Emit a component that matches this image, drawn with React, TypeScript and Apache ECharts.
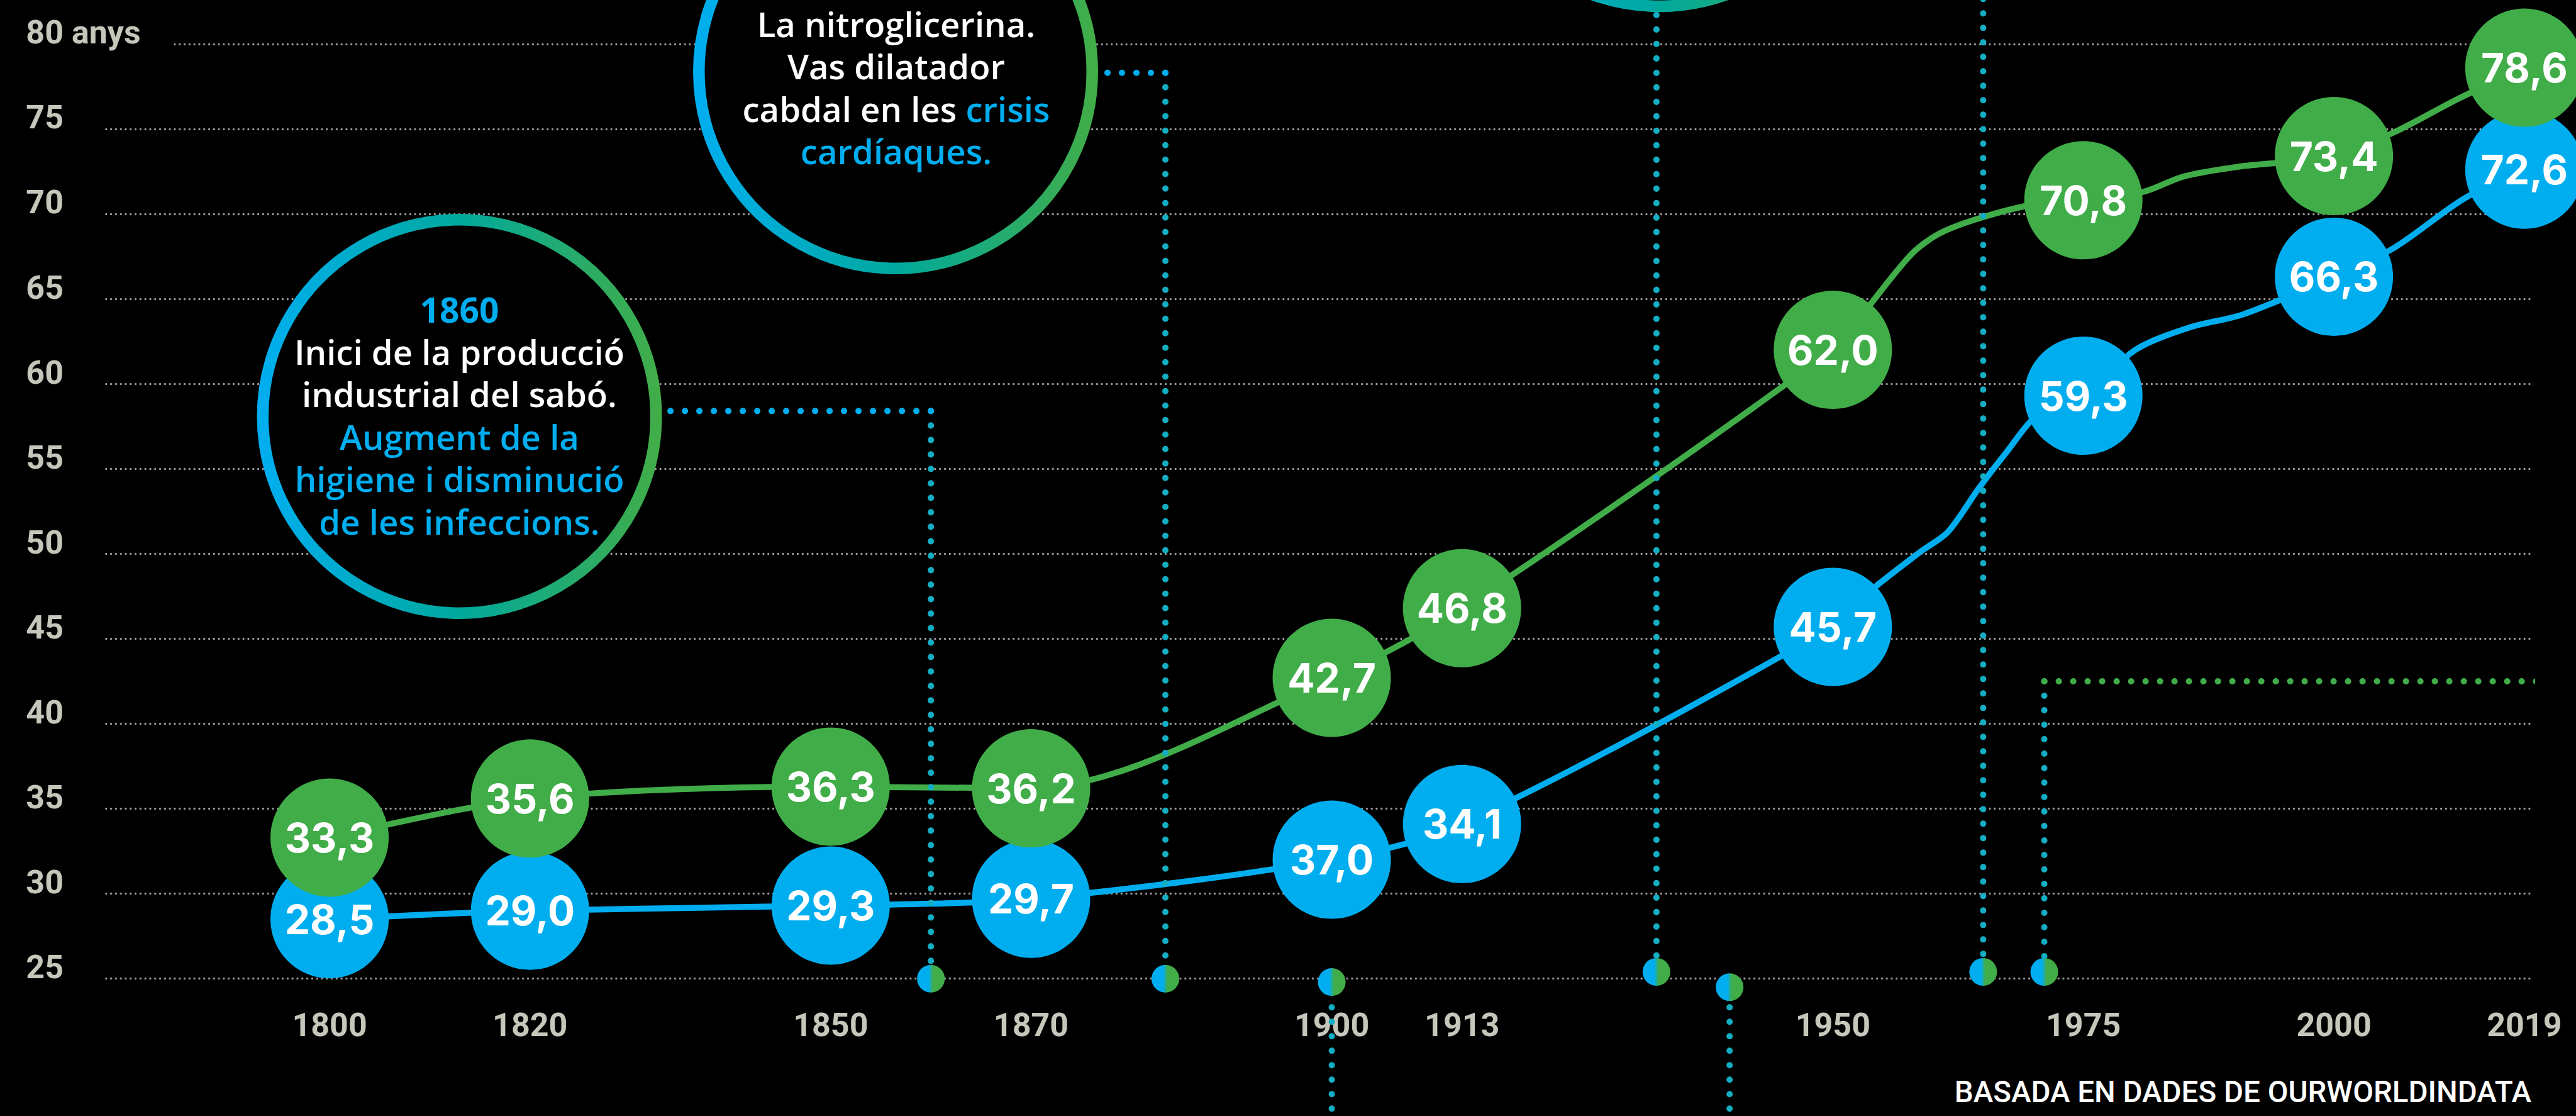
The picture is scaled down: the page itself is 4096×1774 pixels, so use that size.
import React, { useEffect, useRef } from 'react';
import * as echarts from 'echarts';

// ---- data ----
const circleYears = [1800, 1820, 1850, 1870, 1900, 1913, 1950, 1975, 2000, 2019];
const europeValues = [33.3, 35.6, 36.3, 36.2, 42.7, 46.8, 62.0, 70.8, 73.4, 78.6];
const europeLabels = ['33,3', '35,6', '36,3', '36,2', '42,7', '46,8', '62,0', '70,8', '73,4', '78,6'];
const worldValues = [28.5, 29.0, 29.3, 29.7, 32.0, 34.1, 45.7, 59.3, 66.3, 72.6];
const worldLabels = ['28,5', '29,0', '29,3', '29,7', '37,0', '34,1', '45,7', '59,3', '66,3', '72,6'];

// intermediate points of the lines (no circle)
const europeExtraYears = [1953.1, 1957.8, 1960.5, 1964.4, 1969.6, 1981.0, 1985.0, 1990.8, 2006.0, 2012.5];
const europeExtraValues = [64.2, 67.6, 68.8, 69.7, 70.5, 71.3, 72.2, 72.8, 74.8, 76.8];
const worldExtraYears = [1953.5, 1958.7, 1961.5, 1964.5, 1967.1, 1970.5, 1980.2, 1985.5, 1991.0, 2006.0, 2013.0];
const worldExtraValues = [47.7, 50.1, 51.3, 53.8, 55.8, 58.2, 62.0, 63.3, 64.1, 68.0, 70.9];

const xLabelYears = [1800, 1820, 1850, 1870, 1900, 1913, 1950, 1975, 2000, 2019];
const yMin = 25;
const yMax = 80;
const yStep = 5;

// event markers on the time axis and their dotted connectors
const eventYears = [1860, 1883.4, 1900, 1932.4, 1939.7, 1965, 1971.1];
const eventBaseValues = [25, 25, 24.8, 25.4, 24.5, 25.4, 25.4];
const eventLinkValues = [58.4, 78.3, 16.5, 81.7, 16.5, 83.5, 42.5];
const eventLinkEndYears: (number | null)[] = [1833.3, 1877.2, null, null, null, null, 2024.5];
const eventLinkColors = ['blue', 'blue', '', '', '', '', 'green'];

const BLUE = '#00aeef';
const GREEN = '#41ad49';
const TEAL = '#00a99d';
const AXIS_GREY = '#c6c6bb';

function mergeLine(years: number[], values: number[], ey: number[], ev: number[]) {
  const pts: [number, number][] = [];
  years.forEach((y, i) => pts.push([y, values[i]]));
  ey.forEach((y, i) => pts.push([y, ev[i]]));
  pts.sort((a, b) => a[0] - b[0]);
  return pts;
}

export default function App() {
  const ref = useRef<HTMLDivElement>(null);
  useEffect(() => {
    document.body.style.margin = '0';
    document.body.style.background = '#000';
    if (!ref.current) return;
    const chart = echarts.init(ref.current, null, { renderer: 'svg' });

    const connectorStyle = (color: any) => ({
      color,
      width: 10,
      type: [0.1, 22.9],
      cap: 'round',
    });

    const connectorSeries: any[] = [];
    eventYears.forEach((yr, i) => {
      connectorSeries.push({
        type: 'line',
        data: [[yr, eventLinkValues[i]], [yr, eventBaseValues[i]]],
        showSymbol: false,
        symbol: 'none',
        clip: false,
        silent: true,
        z: 3,
        lineStyle: connectorStyle('#14aec4'),
      });
      const endYr = eventLinkEndYears[i];
      if (endYr !== null) {
        connectorSeries.push({
          type: 'line',
          data: [[yr, eventLinkValues[i]], [endYr, eventLinkValues[i]]],
          showSymbol: false,
          symbol: 'none',
          clip: false,
          silent: true,
          z: 3,
          lineStyle: connectorStyle(eventLinkColors[i] === 'green' ? GREEN : BLUE),
        });
      }
    });

    const ringGradient = () =>
      new echarts.graphic.LinearGradient(0, 0, 1, 0, [
        { offset: 0, color: BLUE },
        { offset: 0.5, color: TEAL },
        { offset: 1, color: GREEN },
      ]);

    const ring = (cx: number, cy: number) => ({
      type: 'circle',
      z: 50,
      silent: true,
      shape: { cx, cy, r: 312.75 },
      style: { fill: '#000', stroke: ringGradient(), lineWidth: 18.5 },
    });

    const txt = (fill: string, weight: any = 600, size = 54.5) => ({
      fill,
      color: fill,
      fontFamily: 'Open Sans',
      fontWeight: weight,
      fontSize: size,
      lineHeight: 67.6,
    });

    const circleLabel = (labels: string[]) => ({
      show: true,
      position: 'inside',
      formatter: (p: any) => labels[p.dataIndex],
      color: '#fff',
      fontFamily: 'Inter',
      fontWeight: 'bold',
      fontSize: 64,
    });

    const markerColor = new echarts.graphic.LinearGradient(0, 0, 1, 0, [
      { offset: 0, color: BLUE },
      { offset: 0.42, color: BLUE },
      { offset: 0.58, color: GREEN },
      { offset: 1, color: GREEN },
    ]);

    chart.setOption({
      animation: false,
      backgroundColor: '#000',
      grid: {
        left: 168.7,
        right: 71,
        top: 69.8,
        bottom: 218.3,
        containLabel: false,
        outerBoundsMode: 'none',
      },
      xAxis: {
        type: 'value',
        min: 1777.7,
        max: 2019.7,
        axisLine: { show: false },
        axisTick: { show: false },
        splitLine: { show: false },
        axisLabel: {
          customValues: xLabelYears,
          formatter: (v: number) => String(Math.round(v)),
          color: AXIS_GREY,
          fontFamily: 'Roboto',
          fontWeight: 'bold',
          fontSize: 52,
          margin: 74,
          verticalAlign: 'middle',
        },
      },
      yAxis: {
        type: 'value',
        min: yMin,
        max: yMax,
        interval: yStep,
        axisLine: { show: false },
        axisTick: { show: false },
        splitLine: {
          show: true,
          lineStyle: { color: '#9a9a9a', width: 3.3, type: [0.1, 7.7], cap: 'round' },
        },
        axisLabel: {
          align: 'left',
          margin: 127.4,
          verticalAlign: 'middle',
          padding: [0, 0, 36, 0],
          color: AXIS_GREY,
          fontFamily: 'Roboto',
          fontWeight: 'bold',
          fontSize: 52,
          formatter: (v: number) => (v === yMax ? '{a|' + v + ' anys}' : '{n|' + v + '}'),
          rich: {
            a: {
              color: AXIS_GREY,
              fontFamily: 'Roboto',
              fontWeight: 'bold',
              fontSize: 52,
              lineHeight: 52,
              width: 232,
              backgroundColor: '#000',
            },
            n: {
              color: AXIS_GREY,
              fontFamily: 'Roboto',
              fontWeight: 'bold',
              fontSize: 52,
              lineHeight: 52,
            },
          },
        },
      },
      series: [
        {
          type: 'line',
          name: 'Món',
          data: mergeLine(circleYears, worldValues, worldExtraYears, worldExtraValues),
          showSymbol: false,
          symbol: 'none',
          smooth: 0.3,
          clip: false,
          z: 2,
          lineStyle: { color: BLUE, width: 9.5 },
        },
        {
          type: 'line',
          name: 'Europa',
          data: mergeLine(circleYears, europeValues, europeExtraYears, europeExtraValues),
          showSymbol: false,
          symbol: 'none',
          smooth: 0.3,
          clip: false,
          z: 2,
          lineStyle: { color: GREEN, width: 9.5 },
        },
        ...connectorSeries,
        {
          type: 'scatter',
          name: 'Món punts',
          data: circleYears.map((y, i) => [y, worldValues[i]]),
          symbol: 'circle',
          symbolSize: 188,
          clip: false,
          z: 4,
          itemStyle: { color: BLUE, opacity: 1 },
          label: circleLabel(worldLabels),
        },
        {
          type: 'scatter',
          name: 'Europa punts',
          data: circleYears.map((y, i) => [y, europeValues[i]]),
          symbol: 'circle',
          symbolSize: 188,
          clip: false,
          z: 5,
          itemStyle: { color: GREEN, opacity: 1 },
          label: circleLabel(europeLabels),
        },
        {
          type: 'scatter',
          name: 'Fites',
          data: eventYears.map((y, i) => [y, eventBaseValues[i]]),
          symbol: 'circle',
          symbolSize: 44,
          clip: false,
          z: 6,
          itemStyle: { color: markerColor, opacity: 1 },
        },
      ],
      graphic: {
        elements: [
          ring(730.5, 662),
          ring(1424, 114),
          ring(2638.7, -302.8),
          {
            type: 'text',
            z: 51,
            silent: true,
            x: 730.5,
            y: 660,
            style: {
              text:
                '{y|1860}\n{w|Inici de la producció}\n{w|industrial del sabó.}\n{b|Augment de la}\n{b|higiene i disminució}\n{b|de les infeccions.}',
              align: 'center',
              verticalAlign: 'middle',
              rich: {
                y: txt(BLUE, 'bold', 55),
                w: txt('#ffffff'),
                b: txt(BLUE),
              },
            },
          },
          {
            type: 'text',
            z: 51,
            silent: true,
            x: 1425,
            y: 139,
            style: {
              text:
                '{w|La nitroglicerina.}\n{w|Vas dilatador}\n{w|cabdal en les }{b|crisis}\n{b|cardíaques.}',
              align: 'center',
              verticalAlign: 'middle',
              rich: {
                w: txt('#ffffff'),
                b: txt(BLUE),
              },
            },
          },
          {
            type: 'text',
            z: 51,
            silent: true,
            x: 4025,
            y: 1736,
            style: {
              text: 'BASADA EN DADES DE OURWORLDINDATA',
              fill: '#ffffff',
              fontFamily: 'Roboto',
              fontWeight: 500,
              fontSize: 47.5,
              align: 'right',
              verticalAlign: 'middle',
            },
          },
        ],
      },
    });

    return () => chart.dispose();
  }, []);

  return (
    <div
      ref={ref}
      style={{ position: 'fixed', left: 0, top: 0, width: 4096, height: 1774, background: '#000' }}
    />
  );
}
